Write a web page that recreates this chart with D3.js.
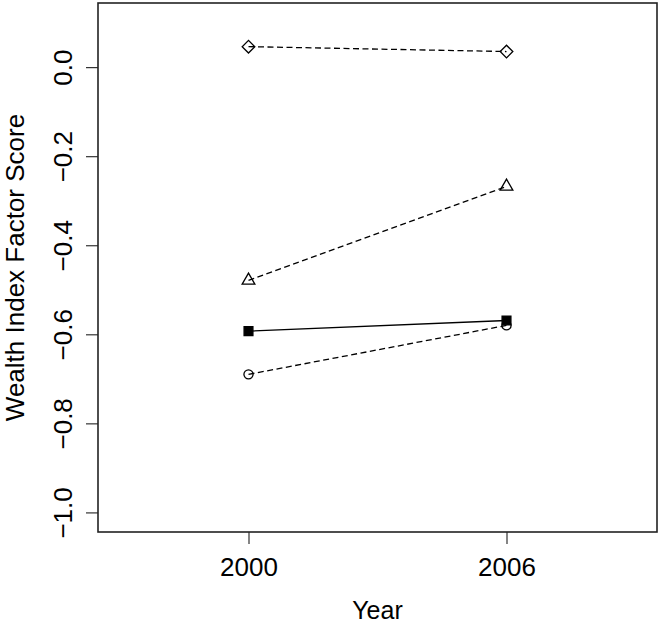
<!DOCTYPE html>
<html>
<head>
<meta charset="utf-8">
<script src="https://cdn.jsdelivr.net/npm/d3@7"></script>
<style>
  body { margin: 0; background: #fff; }
  svg text { font-family: "Liberation Sans", Arial, Helvetica, sans-serif; fill: #000; }
</style>
</head>
<body>
<div id="chart"></div>
<script>
// Data
const years = [2000, 2006];
const seriesNames = ['diamond', 'triangle', 'square', 'circle'];
const diamondValues = [0.046, 0.035];
const triangleValues = [-0.479, -0.268];
const squareValues = [-0.593, -0.569];
const circleValues = [-0.690, -0.580];
const yTicks = [0.0, -0.2, -0.4, -0.6, -0.8, -1.0];
const xTicks = [2000, 2006];

const width = 661, height = 626;
const box = { left: 98, right: 657, top: 3, bottom: 532 };

const svg = d3.select('#chart').append('svg')
    .attr('width', width)
    .attr('height', height);

// Scales (R style padded ranges)
const x = d3.scaleLinear().domain([1996.5, 2009.5]).range([box.left, box.right]);
const y = d3.scaleLinear().domain([-1.044, 0.144]).range([box.bottom, box.top]);

// Y axis
const yAxis = svg.append('g')
    .attr('transform', `translate(${box.left},0)`)
    .call(d3.axisLeft(y).tickValues(yTicks).tickSize(12).tickFormat(d3.format('.1f')));
yAxis.select('.domain').remove();
yAxis.selectAll('line').attr('stroke', '#333').attr('stroke-width', 1.2);
yAxis.selectAll('text')
    .attr('x', null).attr('dy', null)
    .attr('transform', 'translate(-26,0) rotate(-90)')
    .attr('text-anchor', 'middle')
    .style('font-size', '26px')
    .style('font-family', '"Liberation Sans", Arial, sans-serif');

// X axis
const xAxis = svg.append('g')
    .attr('transform', `translate(0,${box.bottom})`)
    .call(d3.axisBottom(x).tickValues(xTicks).tickSize(12).tickFormat(d3.format('d')));
xAxis.select('.domain').remove();
xAxis.selectAll('line').attr('stroke', '#333').attr('stroke-width', 1.2);
xAxis.selectAll('text')
    .attr('y', 44).attr('dy', null)
    .style('font-size', '26px')
    .style('font-family', '"Liberation Sans", Arial, sans-serif');

// Plot box
svg.append('rect')
    .attr('x', box.left)
    .attr('y', box.top)
    .attr('width', box.right - box.left)
    .attr('height', box.bottom - box.top)
    .attr('fill', 'none')
    .attr('stroke', '#222')
    .attr('stroke-width', 1.6);

// Axis titles
svg.append('text')
    .attr('x', (box.left + box.right) / 2)
    .attr('y', 619)
    .attr('text-anchor', 'middle')
    .style('font-size', '25px')
    .text('Year');

svg.append('text')
    .attr('transform', `translate(24,${(box.top + box.bottom) / 2}) rotate(-90)`)
    .attr('text-anchor', 'middle')
    .style('font-size', '26px')
    .text('Wealth Index Factor Score');

// Series (diamond = square turned 45 degrees, like R pch 5)
const series = [
    { name: seriesNames[0], values: diamondValues, dash: '6,3.5', symbol: d3.symbolSquare, size: 80, fill: 'none', rotate: 45 },
    { name: seriesNames[1], values: triangleValues, dash: '6,3.5', symbol: d3.symbolTriangle, size: 70, fill: 'none', rotate: 0 },
    { name: seriesNames[2], values: squareValues, dash: null, symbol: d3.symbolSquare, size: 78, fill: '#000', rotate: 0 },
    { name: seriesNames[3], values: circleValues, dash: '6,3.5', symbol: d3.symbolCircle, size: 66, fill: 'none', rotate: 0 }
];

const line = d3.line()
    .x((d, i) => x(years[i]))
    .y(d => y(d));

series.forEach(s => {
    svg.append('path')
        .datum(s.values)
        .attr('d', line)
        .attr('fill', 'none')
        .attr('stroke', '#000')
        .attr('stroke-width', 1.3)
        .attr('stroke-dasharray', s.dash);

    svg.selectAll(null)
        .data(s.values)
        .enter()
        .append('path')
        .attr('d', d3.symbol().type(s.symbol).size(s.size))
        .attr('transform', (d, i) => `translate(${x(years[i])},${y(d)}) rotate(${s.rotate})`)
        .attr('fill', s.fill)
        .attr('stroke', '#000')
        .attr('stroke-width', 1.3);
});
</script>
</body>
</html>
